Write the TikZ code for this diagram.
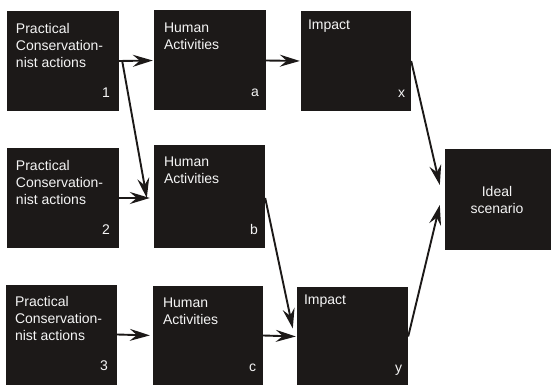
\documentclass[tikz,border=0pt]{standalone}
\usepackage{fontspec}
\setmainfont{Liberation Sans}
\usetikzlibrary{arrows.meta}
\definecolor{boxfill}{RGB}{28,25,24}
\definecolor{boxtext}{RGB}{245,245,245}
\tikzset{
  box/.style={fill=boxfill, draw=none, inner sep=0, minimum width=#1, minimum height=100pt},
  box/.default=112pt,
  txt/.style={text=boxtext, inner sep=0, align=left, font=\fontsize{14}{17}\selectfont},
  num/.style={text=boxtext, inner sep=0, anchor=base east, font=\fontsize{14}{17}\selectfont},
  conn/.style={line width=1.9pt, draw=boxfill, -{Stealth[length=20pt,width=12pt,inset=7pt]}}
}
\begin{document}
\begin{tikzpicture}[x=1pt,y=-1pt]
\useasboundingbox[fill=white] (0,0) rectangle (551,385);
% boxes
\node[box] (p1) at (63,61) {};
\node[box] (a) at (210,60.5) {};
\node[box=110pt] (x) at (356,61) {};
\node[box] (p2) at (63,198) {};
\node[box=111pt, minimum height=103pt] (b) at (209.5,196.5) {};
\node[box=111pt] (p3) at (61.5,334.5) {};
\node[box=110pt] (c) at (208,335.5) {};
\node[box=111pt] (yb) at (352.5,336.5) {};
\node[box=110pt, minimum height=101pt] (ideal) at (500,199.5) {};
% texts
\node[txt, anchor=north west] (p1t) at ([xshift=9pt,yshift=-12pt]p1.north west) {Practical\\Conservation-\\nist actions};
\node[txt, anchor=north west] (p2t) at ([xshift=9pt,yshift=-12pt]p2.north west) {Practical\\Conservation-\\nist actions};
\node[txt, anchor=north west] (p3t) at ([xshift=9pt,yshift=-12pt]p3.north west) {Practical\\Conservation-\\nist actions};
\node[txt, anchor=north west] (at) at ([xshift=10pt,yshift=-12pt]a.north west) {Human\\Activities};
\node[txt, anchor=north west] (bt) at ([xshift=10pt,yshift=-12pt]b.north west) {Human\\Activities};
\node[txt, anchor=north west] (ct) at ([xshift=10pt,yshift=-12pt]c.north west) {Human\\Activities};
\node[txt, anchor=base west] (xt) at ([xshift=7pt,yshift=-19pt]x.north west) {Impact};
\node[txt, anchor=base west] (yt) at ([xshift=7pt,yshift=-18pt]yb.north west) {Impact};
\node[txt, align=center] (it) at ([xshift=-3pt]ideal.center) {Ideal\\scenario};
% numbers
\node[num] (n1) at ([xshift=-9pt,yshift=14pt]p1.south east) {1};
\node[num] (n2) at ([xshift=-9pt,yshift=14pt]p2.south east) {2};
\node[num] (n3) at ([xshift=-9pt,yshift=14pt]p3.south east) {3};
\node[num] (na) at ([xshift=-7pt,yshift=14pt]a.south east) {a};
\node[num] (nb) at ([xshift=-7pt,yshift=14pt]b.south east) {b};
\node[num] (nc) at ([xshift=-7pt,yshift=14pt]c.south east) {c};
\node[num] (nx) at ([xshift=-6pt,yshift=14pt]x.south east) {x};
\node[num] (ny) at ([xshift=-6pt,yshift=14pt]yb.south east) {y};
% connectors
\draw[conn, shorten >=1pt] (p1.east) -- (a.west);
\draw[conn] ([xshift=3pt]p1.east) -- ([xshift=-7pt,yshift=-1.5pt]b.west);
\draw[conn, shorten >=1pt] (a.east) -- (x.west);
\draw[conn] (x.east) -- ([xshift=-5pt,yshift=14.5pt]ideal.west);
\draw[conn, shorten >=4pt] (p2.east) -- ([yshift=-1.5pt]b.west);
\draw[conn] ([yshift=-1.5pt]b.east) -- ([xshift=-4pt,yshift=8pt]yb.west);
\draw[conn, shorten >=3pt] (p3.east) -- (c.west);
\draw[conn, shorten >=1pt] (c.east) -- (yb.west);
\draw[conn] (yb.east) -- ([xshift=-5pt,yshift=-5.5pt]ideal.west);
\end{tikzpicture}
\end{document}
